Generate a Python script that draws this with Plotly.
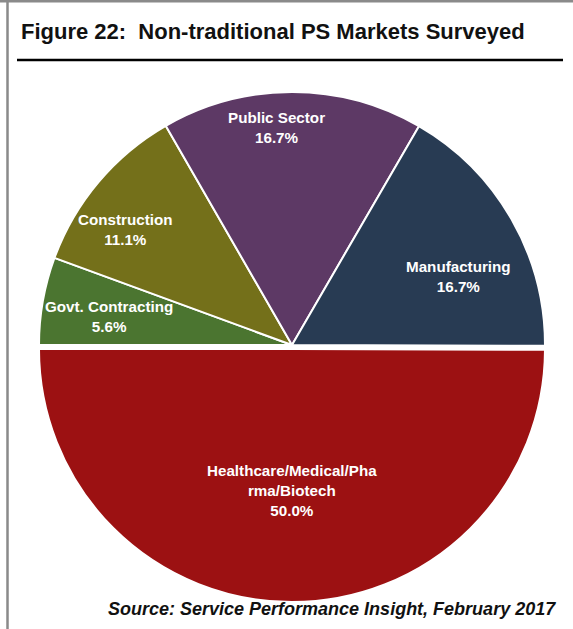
import numpy as np
import plotly.graph_objects as go

# Survey shares by market (clockwise from 9 o'clock)
markets = ["Govt. Contracting", "Construction", "Public Sector",
           "Manufacturing", "Healthcare/Medical/Pha<br>rma/Biotech"]
shares = [5.6, 11.1, 16.7, 16.7, 50.0]
colors = ["#4B7530", "#74701A", "#5D3965", "#283B53", "#9C1112"]
pulls = [0, 0, 0, 0, 0.016]

# label placement tweaks (fraction of radius, angle offset in degrees)
label_r = [0.73, 0.80, 0.86, 0.71, 0.56]
label_da = [-1.3, -5.4, -4.2, 7.4, 0.0]

W, H = 573, 629
cx, cy, R = 292, 345, 253          # pie centre / radius in pixels
start_deg = -90                    # first slice starts at 9 o'clock

rfull = R * (1 + max(pulls))
fig = go.Figure(go.Pie(
    labels=markets, values=shares, sort=False, direction="clockwise",
    rotation=start_deg, pull=pulls,
    marker=dict(colors=colors, line=dict(color="white", width=2)),
    textinfo="none", hoverinfo="label+percent", showlegend=False,
    domain=dict(x=[(cx - rfull) / W, (cx + rfull) / W],
                y=[(H - cy - rfull) / H, (H - cy + rfull) / H]),
))

# slice labels positioned from the cumulative angles of the data
vals = np.array(shares, dtype=float)
frac = vals / vals.sum()
ends = np.cumsum(frac) * 360 + start_deg
mids = ends - frac * 180
annotations = []
for name, v, m, rf, da, p in zip(markets, vals, mids, label_r, label_da, pulls):
    th = np.radians(m + da)
    px = cx + (rf + p) * R * np.sin(th)
    py = cy - (rf + p) * R * np.cos(th)
    annotations.append(dict(
        x=px / W, y=1 - py / H, xref="paper", yref="paper",
        text=f"{name}<br>{v:.1f}%", showarrow=False,
        font=dict(family="Liberation Sans, Arial, sans-serif", size=15.2,
                  color="white", weight="bold"),
        align="center", xanchor="center", yanchor="middle",
    ))

# title and source
annotations.append(dict(
    x=19 / W, y=1 - 32 / H, xref="paper", yref="paper",
    text="Figure 22:  Non-traditional PS Markets Surveyed", showarrow=False,
    font=dict(family="Liberation Sans, Arial, sans-serif",
              size=22, color="#111111", weight="bold"),
    xanchor="left", yanchor="middle",
))
annotations.append(dict(
    x=558 / W, y=1 - 609 / H, xref="paper", yref="paper",
    text="<i>Source: Service Performance Insight, February 2017</i>",
    showarrow=False,
    font=dict(family="Liberation Sans, Arial, sans-serif", size=18,
              color="#111111", weight="bold"),
    xanchor="right", yanchor="middle",
))

shapes = [
    # underline beneath the title
    dict(type="line", xref="paper", yref="paper",
         x0=17 / W, x1=563 / W, y0=1 - 60 / H, y1=1 - 60 / H,
         line=dict(color="black", width=2.5)),
    # grey frame: top and left edges
    dict(type="line", xref="paper", yref="paper",
         x0=0, x1=1, y0=1 - 1 / H, y1=1 - 1 / H,
         line=dict(color="#8a8a8a", width=3)),
    dict(type="line", xref="paper", yref="paper",
         x0=7.5 / W, x1=7.5 / W, y0=0, y1=1,
         line=dict(color="#8a8a8a", width=2.5)),
]

fig.update_layout(
    width=W, height=H, margin=dict(l=0, r=0, t=0, b=0),
    paper_bgcolor="white", plot_bgcolor="white",
    annotations=annotations, shapes=shapes,
)

fig.write_html("out.html")
